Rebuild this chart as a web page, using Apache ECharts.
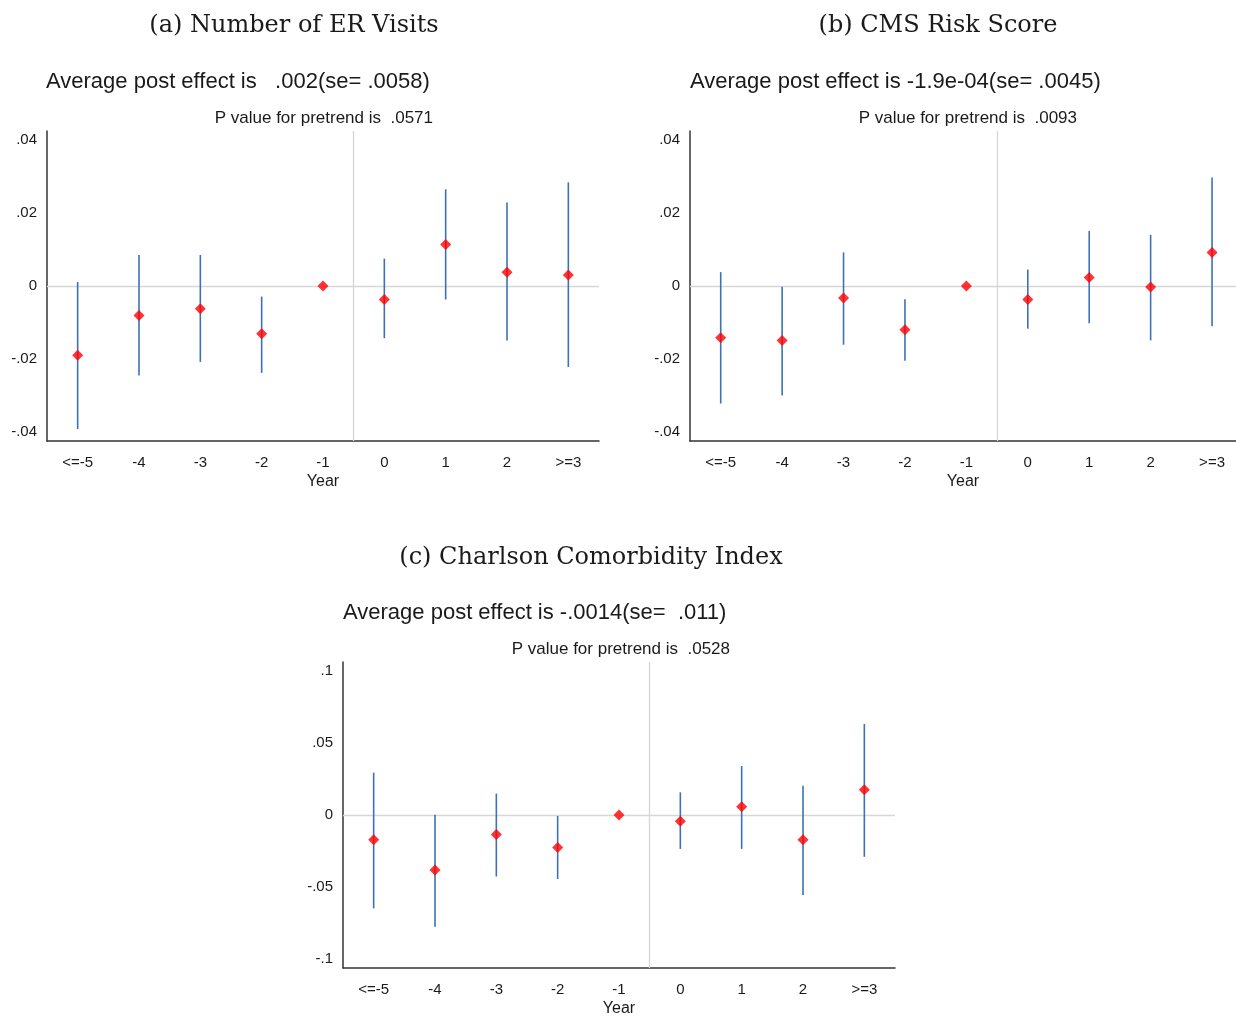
<!DOCTYPE html>
<html>
<head>
<meta charset="utf-8">
<title>Event-study estimates</title>
<script src="https://cdn.jsdelivr.net/npm/echarts@6/dist/echarts.min.js"></script>
<style>
  html, body { margin: 0; padding: 0; background: #fff; }
  #chart { width: 1236px; height: 1018px; }
</style>
</head>
<body>
<div id="chart"></div>
<script>
// Event-time categories (x positions 1..9)
const years = ['<=-5', '-4', '-3', '-2', '-1', '0', '1', '2', '>=3'];

// (a) Number of ER Visits
const erCoef = [-0.0190, -0.0081, -0.0062, -0.0131, 0, -0.0037, 0.0114, 0.0038, 0.0030];
const erLo   = [-0.0392, -0.0245, -0.0208, -0.0238, 0, -0.0143, -0.0037, -0.0149, -0.0222];
const erHi   = [0.0011, 0.0085, 0.0085, -0.0029, 0, 0.0075, 0.0265, 0.0229, 0.0284];

// (b) CMS Risk Score
const cmsCoef = [-0.0142, -0.0149, -0.0033, -0.0120, 0, -0.0037, 0.0023, -0.0003, 0.0092];
const cmsLo   = [-0.0322, -0.0300, -0.0161, -0.0205, 0, -0.0117, -0.0102, -0.0149, -0.0110];
const cmsHi   = [0.0038, -0.0002, 0.0092, -0.0036, 0, 0.0045, 0.0151, 0.0140, 0.0297];

// (c) Charlson Comorbidity Index
const cciCoef = [-0.0172, -0.0382, -0.0135, -0.0227, 0, -0.0043, 0.0057, -0.0172, 0.0176];
const cciLo   = [-0.0650, -0.0778, -0.0428, -0.0446, 0, -0.0236, -0.0236, -0.0556, -0.0291];
const cciHi   = [0.0295, 0.0002, 0.0149, -0.0007, 0, 0.0158, 0.0341, 0.0204, 0.0634];

// Y tick labels
const ticksSmall = [-0.04, -0.02, 0, 0.02, 0.04];
const ticksLarge = [-0.1, -0.05, 0, 0.05, 0.1];

// Panel headings
const panelTitles = ['(a) Number of ER Visits', '(b) CMS Risk Score', '(c) Charlson Comorbidity Index'];
const effectTexts = [
  'Average post effect is   .002(se= .0058)',
  'Average post effect is -1.9e-04(se= .0045)',
  'Average post effect is -.0014(se=  .011)'
];
const pvalueTexts = [
  'P value for pretrend is  .0571',
  'P value for pretrend is  .0093',
  'P value for pretrend is  .0528'
];

// Panel (b) runs off the right edge of the page, so its x range is cut short there
const panels = [
  { coef: erCoef, lo: erLo, hi: erHi, ticks: ticksSmall, ext: 0.04247, xMax: 9.5 },
  { coef: cmsCoef, lo: cmsLo, hi: cmsHi, ticks: ticksSmall, ext: 0.04247, xMax: 9.39 },
  { coef: cciCoef, lo: cciLo, hi: cciHi, ticks: ticksLarge, ext: 0.1065, xMax: 9.5 }
];

const grids = [
  { left: 47, top: 131, width: 552, height: 310 },
  { left: 690, top: 131, width: 546, height: 310 },
  { left: 343, top: 662, width: 552, height: 311 }
];

const SANS = '"Liberation Sans", Arial, sans-serif';
const SERIF = '"DejaVu Serif", "Liberation Serif", serif';
const TEXT = '#1a1a1a';

function stataFmt(v) {
  if (Math.abs(v) < 1e-12) return '0';
  const s = String(+v.toFixed(4));
  return s.replace(/^(-?)0\./, '$1.');
}

const xAxes = [], yAxes = [], series = [];
panels.forEach((p, i) => {
  xAxes.push({
    type: 'value', gridIndex: i, min: 0.5, max: p.xMax,
    name: 'Year', nameLocation: 'middle', nameGap: 33,
    nameTextStyle: { fontFamily: SANS, fontSize: 16, color: TEXT },
    axisLine: { show: true, onZero: false, lineStyle: { color: '#333', width: 1.5 } },
    axisTick: { show: false },
    splitLine: { show: false },
    axisLabel: {
      customValues: [1, 2, 3, 4, 5, 6, 7, 8, 9],
      formatter: v => years[Math.round(v) - 1],
      margin: 14, fontFamily: SANS, fontSize: 15, color: TEXT
    }
  });
  yAxes.push({
    type: 'value', gridIndex: i, min: -p.ext, max: p.ext,
    axisLine: { show: true, onZero: false, lineStyle: { color: '#333', width: 1.5 } },
    axisTick: { show: false },
    splitLine: { show: false },
    axisLabel: {
      customValues: p.ticks,
      formatter: stataFmt,
      margin: 10, fontFamily: SANS, fontSize: 15, color: TEXT
    }
  });
  // reference lines at zero and between event times -1 and 0
  series.push({
    type: 'line', xAxisIndex: i, yAxisIndex: i, z: 1,
    data: [], silent: true,
    markLine: {
      z: 1, silent: true, symbol: 'none', animation: false,
      label: { show: false },
      lineStyle: { color: '#d6d6d6', width: 1.3, type: 'solid' },
      data: [{ yAxis: 0 }, { xAxis: 5.5 }]
    }
  });
  const bars = p.coef.map((c, k) => [k + 1, p.lo[k], p.hi[k]]);
  series.push({
    type: 'custom', xAxisIndex: i, yAxisIndex: i, z: 3,
    data: bars,
    renderItem: (params, api) => {
      const a = api.coord([api.value(0), api.value(1)]);
      const b = api.coord([api.value(0), api.value(2)]);
      return {
        type: 'line',
        shape: { x1: a[0], y1: a[1], x2: b[0], y2: b[1] },
        style: { stroke: '#3b72b6', lineWidth: 1.6 }
      };
    },
    silent: true
  });
  series.push({
    type: 'scatter', xAxisIndex: i, yAxisIndex: i, z: 6,
    data: p.coef.map((c, k) => [k + 1, c]),
    symbol: 'diamond', symbolSize: 11,
    itemStyle: { color: '#ff0000' },
    silent: true
  });
});

// Heading positions per panel
const headPos = [
  { titleX: 294, titleY: 26, effX: 46, effY: 82, pRight: 433, pY: 118 },
  { titleX: 938, titleY: 26, effX: 690, effY: 82, pRight: 1077, pY: 118 },
  { titleX: 591, titleY: 558, effX: 343, effY: 613, pRight: 730, pY: 649 }
];
const graphics = [];
headPos.forEach((h, i) => {
  graphics.push({ type: 'text', x: h.titleX, y: h.titleY,
    style: { text: panelTitles[i], font: '24px ' + SERIF, fill: TEXT, textAlign: 'center', textVerticalAlign: 'middle' } });
  graphics.push({ type: 'text', x: h.effX, y: h.effY,
    style: { text: effectTexts[i], font: '22px ' + SANS, fill: TEXT, textAlign: 'left', textVerticalAlign: 'middle' } });
  graphics.push({ type: 'text', x: h.pRight, y: h.pY,
    style: { text: pvalueTexts[i], font: '17px ' + SANS, fill: TEXT, textAlign: 'right', textVerticalAlign: 'middle' } });
});

const chart = echarts.init(document.getElementById('chart'), null, { renderer: 'canvas' });
chart.setOption({
  animation: false,
  backgroundColor: '#fff',
  grid: grids.map(g => Object.assign({ containLabel: false }, g)),
  xAxis: xAxes,
  yAxis: yAxes,
  series: series,
  graphic: graphics
});
</script>
</body>
</html>
